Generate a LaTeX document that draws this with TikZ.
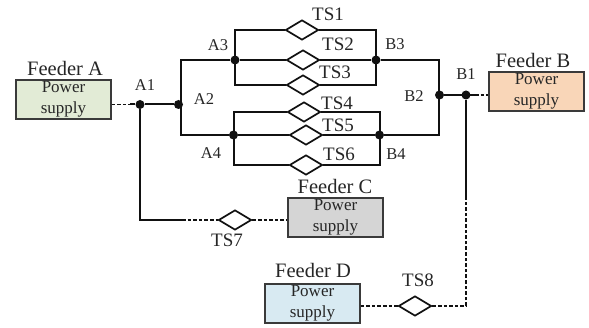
\documentclass[tikz,border=0pt]{standalone}
\usepackage{fontspec}
\setmainfont{Liberation Serif}
\usetikzlibrary{shapes.geometric}
\definecolor{FeedGreen}{HTML}{E2EBD6}
\definecolor{FeedOrange}{HTML}{F9D6B8}
\definecolor{FeedGray}{HTML}{D5D5D5}
\definecolor{FeedBlue}{HTML}{D8EAF2}
\definecolor{LineDark}{HTML}{111111}
\definecolor{BoxEdge}{HTML}{3A3A3A}
\tikzset{
  bus/.style={draw=LineDark,line width=2pt,line join=miter},
  tie/.style={draw=LineDark,line width=1.6pt,dash pattern=on 3.6pt off 2pt},
  junction/.style={circle,fill=LineDark,inner sep=0pt,minimum size=9pt},
  switchbox/.style={diamond,draw=LineDark,line width=1.7pt,fill=white,inner sep=0pt,minimum width=33pt,minimum height=20pt},
  supply/.style={draw=BoxEdge,line width=1.3pt,minimum width=95pt,minimum height=39pt,inner sep=0pt,align=center,text=black!85,font=\fontsize{17}{21}\selectfont},
  feedername/.style={text=black!85,inner sep=0pt,font=\fontsize{20.5}{24}\selectfont},
  tsname/.style={text=black!85,inner sep=0pt,font=\fontsize{19}{23}\selectfont},
  busname/.style={text=black!85,inner sep=0pt,font=\fontsize{16.5}{20}\selectfont}
}

\begin{document}
\begin{tikzpicture}[x=1pt,y=-1pt]
  \useasboundingbox (0,0) rectangle (589,328);

  % feeders
  \node[supply,fill=FeedGreen] (feederA) at (63.5,99.5) {Power\\supply};
  \node[supply,fill=FeedOrange] (feederB) at (536.5,91.5) {Power\\supply};
  \node[supply,fill=FeedGray] (feederC) at (335.5,217.5) {Power\\supply};
  \node[supply,fill=FeedBlue] (feederD) at (312.5,303.5) {Power\\supply};
  \node[feedername] (nameA) at (65,68.5) {Feeder A};
  \node[feedername] (nameB) at (533,60.5) {Feeder B};
  \node[feedername] (nameC) at (335,186.5) {Feeder C};
  \node[feedername] (nameD) at (313,270.5) {Feeder D};

  % junctions
  \node[junction] (A1) at (140,104.5) {};
  \node[junction] (A2) at (178.5,104.5) {};
  \node[junction] (A3) at (235,60) {};
  \node[junction] (A4) at (233.5,135) {};
  \node[junction] (B1) at (466,95) {};
  \node[junction] (B2) at (439.5,95) {};
  \node[junction] (B3) at (376,60) {};
  \node[junction] (B4) at (379.5,135) {};

  % switches
  \node[switchbox] (TS1) at (302,30) {};
  \node[switchbox] (TS2) at (303,60) {};
  \node[switchbox] (TS3) at (303,85) {};
  \node[switchbox] (TS4) at (304,112) {};
  \node[switchbox] (TS5) at (306,135) {};
  \node[switchbox] (TS6) at (306,165) {};
  \node[switchbox] (TS7) at (235,220) {};
  \node[switchbox] (TS8) at (415,306) {};

  % corners
  \coordinate (a3up) at (235,30);
  \coordinate (a3down) at (235,85);
  \coordinate (a4up) at (233.5,112);
  \coordinate (a4down) at (233.5,165);
  \coordinate (b3up) at (376,30);
  \coordinate (b3down) at (376,85);
  \coordinate (b4up) at (379.5,112);
  \coordinate (b4down) at (379.5,165);
  \coordinate (aTop) at (181,60);
  \coordinate (aBot) at (181,135);
  \coordinate (bTop) at (439,60);
  \coordinate (bBot) at (439,135);
  \coordinate (a1Low) at (140,220);
  \coordinate (a1End) at (182,220);
  \coordinate (b1Mid) at (466,200);
  \coordinate (b1Low) at (466,306);
  \coordinate (a1Tie) at (130,104.5);
  \coordinate (b1Tie) at (475,95);

  % solid buses
  \draw[bus] (A1) -- (A2);
  \draw[bus] (a1Tie) -- (A1) -- (a1Low) -- (a1End);
  \draw[bus] (A3) -- (aTop) -- (aBot) -- (A4);
  \draw[bus] (B3) -- (bTop) -- (bBot) -- (B4);
  \draw[bus] (B2) -- (b1Tie);
  \draw[bus] (B1) -- (b1Mid);
  \draw[bus] (TS1) -- (a3up) -- (a3down) -- (TS3);
  \draw[bus] (A3) -- (TS2);
  \draw[bus] (TS4) -- (a4up) -- (a4down) -- (TS6);
  \draw[bus] (A4) -- (TS5);
  \draw[bus] (TS1) -- (b3up) -- (b3down) -- (TS3);
  \draw[bus] (TS2) -- (B3);
  \draw[bus] (TS4) -- (b4up) -- (b4down) -- (TS6);
  \draw[bus] (TS5) -- (B4);

  % normally open ties
  \draw[tie] (feederA.east |- a1Tie) -- (a1Tie);
  \draw[tie] (b1Tie) -- (feederB.west |- b1Tie);
  \draw[tie] (a1End) -- (TS7);
  \draw[tie] (TS7) -- (feederC.west |- TS7);
  \draw[tie] (feederD.east |- TS8) -- (TS8);
  \draw[tie] (TS8) -- (b1Low) -- (b1Mid);

  % names
  \node[tsname] (lab1) at (328,14) {TS1};
  \node[tsname] (lab2) at (338,44) {TS2};
  \node[tsname] (lab3) at (335,72) {TS3};
  \node[tsname] (lab4) at (337,103) {TS4};
  \node[tsname] (lab5) at (338,125) {TS5};
  \node[tsname] (lab6) at (339,154) {TS6};
  \node[tsname] (lab7) at (227,240) {TS7};
  \node[tsname] (lab8) at (418,280) {TS8};
  \node[busname] (labA1) at (145,85) {A1};
  \node[busname] (labA2) at (204,99) {A2};
  \node[busname] (labA3) at (218,45) {A3};
  \node[busname] (labA4) at (211,153) {A4};
  \node[busname] (labB1) at (466,74) {B1};
  \node[busname] (labB2) at (414,96) {B2};
  \node[busname] (labB3) at (395,44) {B3};
  \node[busname] (labB4) at (396,154) {B4};
\end{tikzpicture}
\end{document}
